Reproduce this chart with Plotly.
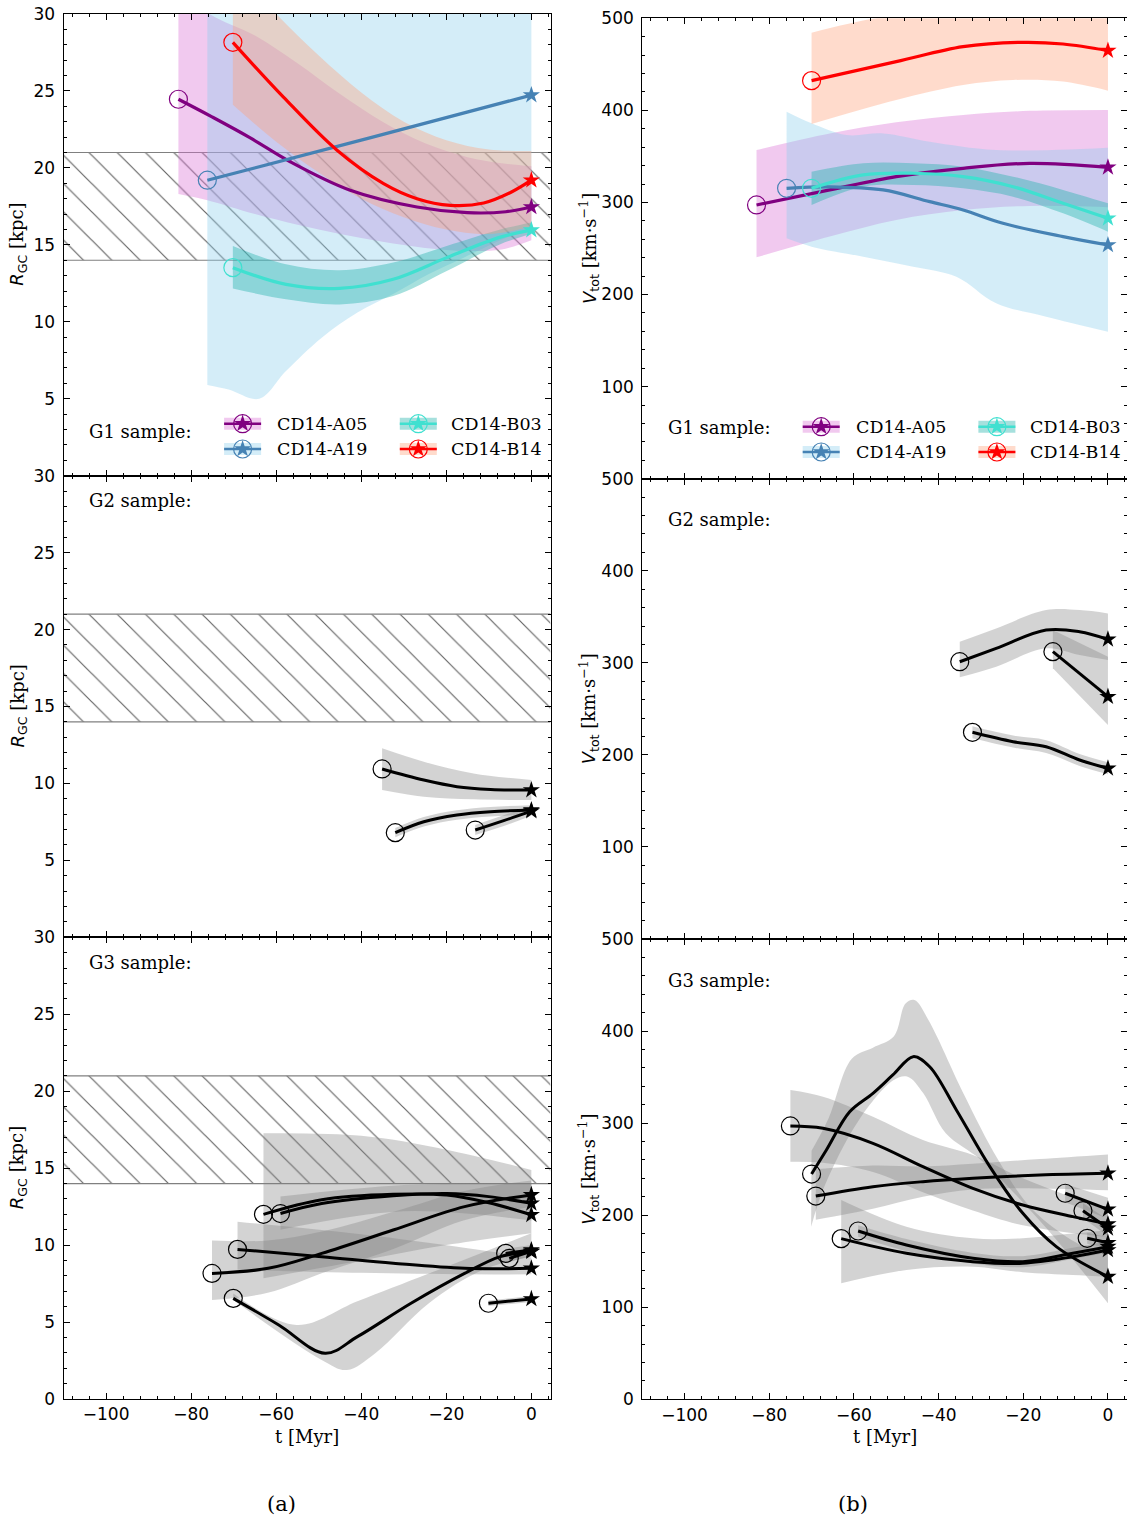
import plotly.graph_objects as go

W, H = 1127, 1527

# ---------------- axis ranges / ticks ----------------
T_RANGE = [-110, 4.5]
R_RANGE = [0, 30]
V_RANGE = [0, 500]
HATCH_R = [14, 21]
X_TICKS = [-100, -80, -60, -40, -20, 0]
R_TICKS = [0, 5, 10, 15, 20, 25, 30]
V_TICKS = [0, 100, 200, 300, 400, 500]

# ---------------- G1 sample (coloured) ----------------
G1_NAMES = ["CD14-A05", "CD14-A19", "CD14-B03", "CD14-B14"]
G1_LINE_COLORS = ["purple", "steelblue", "turquoise", "red"]
G1_BAND_COLORS = ["rgba(218,112,214,0.38)", "rgba(135,206,235,0.36)",
                  "rgba(32,178,170,0.40)", "rgba(255,160,122,0.38)"]

# R_GC [kpc]
G1_R_T = [[-83.0, -75.0, -66.1, -56.7, -42.6, -26.9, -15.1, -6.0, 0],
          [-76.2, -38.0, 0],
          [-70.2, -57.7, -45.1, -32.5, -19.9, -7.3, 0],
          [-70.2, -58.3, -45.7, -34.75, -26.9, -19.06, -11.2, -4.9, 0]]
G1_R = [[24.46, 23.3, 21.95, 20.4, 18.55, 17.46, 17.09, 17.15, 17.46],
        [19.2, 21.95, 24.73],
        [13.52, 12.43, 12.17, 12.76, 14.17, 15.5, 15.96],
        [28.16, 24.6, 21.15, 18.98, 18.0, 17.57, 17.72, 18.4, 19.2]]
G1_R_BAND_T = [[-83.0, -76.2, -65, -55, -45, -35, -25, -15, -7, 0],
               [-76.2, -71.2, -64.0, -57.7, -49.3, -40.9, -32.5, -24.1, -15.7, -7.3, 0],
               [-70.2, -57.7, -45.1, -32.5, -19.9, -7.3, 0],
               [-70.2, -60, -50, -40, -30, -20, -10, 0]]
G1_R_UP = [[32, 30.1, 28.6, 26.8, 24.8, 23.0, 21.6, 20.7, 20.3, 20.1],
           [32, 32, 32, 32, 32, 32, 32, 32, 32, 32, 32],
           [14.93, 13.74, 13.35, 13.85, 14.93, 16.0, 16.46],
           [33.0, 30.0, 27.3, 24.9, 23.0, 21.8, 21.2, 21.1]]
G1_R_LO = [[18.3, 17.9, 17.0, 16.3, 15.7, 15.2, 14.8, 14.6, 14.7, 15.3],
           [5.9, 5.6, 5.0, 6.8, 8.96, 10.6, 11.8, 13.1, 14.2, 15.3, 16.1],
           [12.17, 11.46, 11.13, 11.67, 13.3, 15.04, 15.7],
           [24.1, 21.7, 19.7, 18.0, 16.8, 16.0, 15.7, 16.2]]

# V_tot [km/s]
G1_V_T = [[-83.0, -65.7, -50.0, -34.2, -18.5, 0],
          [-75.9, -65.7, -53.1, -42.1, -34.2, -24.8, -10.6, 0],
          [-70.0, -57.8, -46.0, -34.2, -22.4, -10.6, 0],
          [-70.0, -50.0, -34.2, -20.1, -10.6, 0]]
G1_V = [[297.3, 313.6, 328.0, 337.1, 342.5, 338.2],
        [315.4, 317.0, 313.6, 300.9, 291.8, 277.4, 262.9, 253.8],
        [315.4, 329.9, 331.7, 328.0, 317.1, 299.1, 282.8],
        [432.3, 452.9, 469.2, 473.9, 472.1, 464.9]]
G1_V_UP_T = [[-83.0, -65.7, -50.0, -34.2, -18.5, 0],
             [-75.9, -70.0, -61.8, -53.1, -42.1, -26.4, 0],
             [-70.0, -57.8, -46.0, -34.2, -22.4, -10.6, 0],
             [-70.0, -55.0, -40.0, -20.0, 0]]
G1_V_UP = [[357, 375, 387, 395, 399.5, 400.5],
           [398.6, 386, 373.3, 375, 366, 357, 359.5],
           [333.4, 342.5, 342.5, 338.9, 328.0, 313.6, 299.1],
           [484.4, 500, 508, 514, 512]]
G1_V_LO_T = [[-83.0, -65.7, -50.0, -34.2, -18.5, 0],
             [-75.9, -70.0, -57.8, -46.0, -35.8, -26.4, -14.6, 0],
             [-70.0, -57.8, -46.0, -34.2, -22.4, -10.6, 0],
             [-70.0, -50.0, -34.2, -22.4, -10.6, 0]]
G1_V_LO = [[240.4, 263, 281, 291.8, 296.2, 294.8],
           [261, 252, 241.1, 230.3, 219.4, 190.5, 176, 159.7],
           [297.3, 317.1, 319.0, 315.4, 306.3, 288.2, 268.3],
           [385.2, 411.3, 427.6, 433.0, 431.3, 421.4]]

# ---------------- G2 sample (grey) ----------------
G2_R_T = [[-35.1, -25.3, -17.5, -9.6, 0], [-32.0, -25.3, -17.5, -9.6, 0], [-13.2, -6.5, 0]]
G2_R = [[10.94, 10.22, 9.79, 9.61, 9.57], [6.8, 7.51, 7.95, 8.16, 8.27], [6.97, 7.58, 8.2]]
G2_R_BAND_T = [[-35.1, -25.3, -13.6, 0], [-32.0, -25.3, -17.5, -9.6, 0], [-13.2, -6.5, 0]]
G2_R_UP = [[12.28, 11.41, 10.65, 10.22], [7.1, 7.82, 8.26, 8.47, 8.58], [7.3, 7.93, 8.5]]
G2_R_LO = [[9.57, 9.14, 8.97, 8.92], [6.5, 7.2, 7.64, 7.85, 7.96], [6.65, 7.23, 7.9]]

G2_V_T = [[-35.0, -26.4, -14.6, -6.7, 0], [-13.0, 0], [-32.0, -22.4, -14.6, -6.7, 0]]
G2_V = [[301.2, 315.7, 335.6, 333.8, 325.5], [312.1, 263.2], [224.5, 214.3, 208.9, 194.4, 185.4]]
G2_V_UP = [[322.9, 337.4, 357.3, 357.3, 353.7], [335.6, 306.6], [231, 221, 216, 201, 192]]
G2_V_LO = [[284.2, 295.8, 315.7, 308.5, 303.0], [294.0, 232.4], [218, 208, 202, 188, 179]]

# ---------------- G3 sample (grey) ----------------
G3_R_T = [[-63.0, -49.3, -32.5, -19.9, -10.0, 0],
          [-59.0, -49.3, -32.5, -19.9, -10.0, 0],
          [-69.1, -49.3, -32.5, -15.7, 0],
          [-75.1, -61.9, -49.3, -32.5, -15.7, 0],
          [-70.1, -59.4, -48.5, -40.9, -28.3, -15.7, -7.3, 0],
          [-6.05, 0], [-5.2, 0], [-10.1, 0]]
G3_R = [[12.0, 12.95, 13.3, 13.25, 12.75, 11.97],
        [12.05, 12.7, 13.2, 13.35, 13.15, 12.71],
        [9.72, 9.25, 8.82, 8.49, 8.49],
        [8.16, 8.49, 9.46, 10.98, 12.5, 13.26],
        [6.54, 4.81, 2.97, 4.05, 6.22, 8.16, 9.25, 9.57],
        [9.46, 9.68], [9.14, 9.6], [6.22, 6.5]]
G3_R_UP_T = [[-63, -40, -20, 0], [-59, -30, 0], [-69.1, -40, -15, 0],
             [-75.1, -62, -49, -32, -16, 0], [-70.1, -55.2, -40.9, -24.1, 0],
             [-6.05, 0], [-5.2, 0], [-10.1, 0]]
G3_R_UP = [[17.26, 17.1, 16.2, 14.88], [13.15, 13.9, 14.0], [11.52, 10.7, 9.8, 9.2],
           [10.3, 10.3, 10.9, 12.2, 13.5, 14.2], [6.86, 4.81, 6.35, 8.15, 10.77],
           [9.75, 10.0], [9.4, 9.9], [6.4, 6.7]]
G3_R_LO_T = [[-63, -40, -20, 0], [-59, -30, 0], [-69.1, -40, -15, 0],
             [-75.1, -62, -49, -32, -16, 0], [-70.1, -49.3, -43.4, -36.7, -24.1, -11.5, 0],
             [-6.05, 0], [-5.2, 0], [-10.1, 0]]
G3_R_LO = [[7.84, 9.0, 10.0, 10.77], [11.0, 12.2, 11.6], [8.4, 8.2, 8.1, 8.1],
           [6.43, 6.9, 8.2, 9.8, 11.6, 12.5], [6.43, 2.54, 1.88, 2.97, 6.22, 8.38, 9.25],
           [9.2, 9.35], [8.9, 9.3], [6.05, 6.3]]

G3_V_T = [[-75.0, -67.3, -55.5, -43.7, -31.9, -20.1, -8.3, 0],
          [-70.0, -66.5, -61.0, -55.5, -50.8, -46.0, -42.1, -35.8, -27.9, -20.1, -12.2, 0],
          [-69.0, -55.5, -43.7, -31.9, -16.1, 0],
          [-63.0, -47.6, -31.9, -20.1, -8.3, 0],
          [-59.0, -47.6, -31.9, -20.1, -8.3, 0],
          [-10.1, 0], [-5.9, 0], [-4.9, 0]]
G3_V = [[296.9, 294.4, 278.1, 252.7, 229.2, 211.0, 198.4, 190.4],
        [244.7, 270.8, 312.4, 332.4, 352.3, 372.2, 361.3, 314.3, 252.7, 202.0, 165.8, 133.2],
        [220.8, 231.0, 236.4, 240.1, 243.6, 245.5],
        [174.5, 158.6, 149.5, 147.7, 154.9, 162.2],
        [182.8, 167.6, 153.2, 149.5, 158.6, 165.8],
        [223.8, 206.4], [204.9, 185.7], [174.9, 170.1]]
G3_V_UP_T = [[-75.0, -67.3, -55.5, -43.7, -31.9, -20.1, 0],
             [-70.0, -66.0, -60.5, -55.5, -50.6, -47.8, -45.7, -42.4, -34.1, -25.9, -17.7, -5.3, 0],
             [-69.0, -55.5, -43.7, -31.9, -16.1, 0],
             [-63.0, -47.6, -31.9, -20.1, -8.3, 0],
             [-59.0, -47.6, -31.9, -20.1, -8.3, 0],
             [-10.1, 0], [-5.9, 0], [-4.9, 0]]
G3_V_UP = [[336, 328.7, 307, 281.7, 265.4, 240, 205],
           [270, 305, 370, 382, 394, 430, 433.7, 412, 332, 260, 205.6, 165, 160],
           [250, 254, 253, 256, 261, 266],
           [216.5, 187.5, 174.9, 175, 180, 184],
           [189, 174, 159, 155.5, 164.5, 172],
           [234, 219], [213, 195], [181, 176]]
G3_V_LO_T = [[-75.0, -67.3, -55.5, -43.7, -31.9, -20.1, 0],
             [-70.1, -67.0, -58.8, -50.6, -47.3, -43.6, -38.3, -30.0, -17.7, -9.5, 0],
             [-69.0, -55.5, -43.7, -31.9, -16.1, 0],
             [-63.0, -47.6, -31.9, -20.1, -8.3, 0],
             [-59.0, -47.6, -31.9, -20.1, -8.3, 0],
             [-10.1, 0], [-5.9, 0], [-4.9, 0]]
G3_V_LO = [[258.1, 257, 247, 225, 205, 189, 176],
           [187.5, 231, 303.5, 346.8, 350.4, 332.4, 289, 260, 202, 158.6, 104.3],
           [195, 207, 220, 228, 229, 227],
           [126, 140.5, 144, 138, 135, 133],
           [176.5, 161, 147.5, 143.5, 152.5, 159.5],
           [214, 196], [197, 177], [169, 164]]

GREY_BAND = "rgba(128,128,128,0.35)"

# ---------------- layout geometry (pixels) ----------------
X_LEFT = (63.6, 550.5)
X_RIGHT = (642.2, 1127.0)
ROWS_LEFT = [(14.0, 475.7), (475.7, 937.3), (937.3, 1399.0)]
ROWS_RIGHT = [(18.3, 478.7), (478.7, 939.0), (939.0, 1399.3)]
SERIF = "DejaVu Serif"
SANS = "DejaVu Sans"
SMOOTH = 1.0

fig = go.Figure()


def refs(i):
    return ("x" if i == 1 else f"x{i}"), ("y" if i == 1 else f"y{i}")


def sc(i, **kw):
    xr, yr = refs(i)
    fig.add_trace(go.Scatter(xaxis=xr, yaxis=yr, showlegend=False, hoverinfo="skip", **kw))


def band(i, t_lo, lo, t_up, up, color):
    sc(i, x=t_lo, y=lo, mode="lines", line=dict(width=0, shape="spline", smoothing=SMOOTH))
    sc(i, x=t_up, y=up, mode="lines", line=dict(width=0, shape="spline", smoothing=SMOOTH),
       fill="tonexty", fillcolor=color)


def track(i, t, v, color, lw=3.2):
    sc(i, x=t, y=v, mode="lines", line=dict(color=color, width=lw, shape="spline", smoothing=SMOOTH))
    sc(i, x=t[:1], y=v[:1], mode="markers", cliponaxis=False,
       marker=dict(symbol="circle-open", size=18, color=color, line=dict(color=color, width=1.2)))
    sc(i, x=t[-1:], y=v[-1:], mode="markers", cliponaxis=False,
       marker=dict(symbol="star", size=13, color=color, line=dict(width=0)))


def hatch(i):
    sc(i, x=[T_RANGE[0], T_RANGE[1], T_RANGE[1], T_RANGE[0]],
       y=[HATCH_R[0], HATCH_R[0], HATCH_R[1], HATCH_R[1]],
       mode="lines", line=dict(width=0), fill="toself", fillcolor="rgba(0,0,0,0)",
       fillpattern=dict(shape="\\", fgcolor="#666666", bgcolor="rgba(0,0,0,0)",
                        size=20, solidity=0.06, fgopacity=1))
    for r in HATCH_R:
        sc(i, x=T_RANGE, y=[r, r], mode="lines", line=dict(color="#808080", width=1.2))


# ---- row 1 : G1 ----
hatch(1)
for k in range(4):
    band(1, G1_R_BAND_T[k], G1_R_LO[k], G1_R_BAND_T[k], G1_R_UP[k], G1_BAND_COLORS[k])
for k in range(4):
    band(2, G1_V_LO_T[k], G1_V_LO[k], G1_V_UP_T[k], G1_V_UP[k], G1_BAND_COLORS[k])
for k in range(4):
    track(1, G1_R_T[k], G1_R[k], G1_LINE_COLORS[k])
    track(2, G1_V_T[k], G1_V[k], G1_LINE_COLORS[k])

# ---- row 2 : G2 ----
hatch(3)
for k in range(len(G2_R_T)):
    band(3, G2_R_BAND_T[k], G2_R_LO[k], G2_R_BAND_T[k], G2_R_UP[k], GREY_BAND)
for k in range(len(G2_V_T)):
    band(4, G2_V_T[k], G2_V_LO[k], G2_V_T[k], G2_V_UP[k], GREY_BAND)
for k in range(len(G2_R_T)):
    track(3, G2_R_T[k], G2_R[k], "black", 3.0)
for k in range(len(G2_V_T)):
    track(4, G2_V_T[k], G2_V[k], "black", 3.0)

# ---- row 3 : G3 ----
hatch(5)
for k in range(len(G3_R_T)):
    band(5, G3_R_LO_T[k], G3_R_LO[k], G3_R_UP_T[k], G3_R_UP[k], GREY_BAND)
for k in range(len(G3_V_T)):
    band(6, G3_V_LO_T[k], G3_V_LO[k], G3_V_UP_T[k], G3_V_UP[k], GREY_BAND)
for k in range(len(G3_R_T)):
    track(5, G3_R_T[k], G3_R[k], "black", 3.0)
for k in range(len(G3_V_T)):
    track(6, G3_V_T[k], G3_V[k], "black", 3.0)

# ---------------- axes ----------------
tickfont = dict(family=SANS, size=17, color="black")
common = dict(showline=True, linecolor="black", linewidth=1, mirror="allticks",
              ticks="inside", ticklen=6, tickwidth=1, tickcolor="black",
              showgrid=False, zeroline=False, tickfont=tickfont, fixedrange=True)
layout_axes = {}
for row in range(3):
    for col in range(2):
        i = row * 2 + col + 1
        xr, yr = refs(i)
        xs = X_LEFT if col == 0 else X_RIGHT
        top, bot = (ROWS_LEFT if col == 0 else ROWS_RIGHT)[row]
        xk = "xaxis" if i == 1 else f"xaxis{i}"
        yk = "yaxis" if i == 1 else f"yaxis{i}"
        layout_axes[xk] = dict(common, domain=[xs[0] / W, min(xs[1] / W, 1.0)], range=T_RANGE,
                               anchor=yr, tickmode="array", tickvals=X_TICKS,
                               showticklabels=(row == 2),
                               minor=dict(dtick=4, tick0=0, ticks="inside", ticklen=3, tickwidth=1,
                                          tickcolor="black", showgrid=False))
        if col == 0:
            yt, yrng, mdt = R_TICKS, R_RANGE, 1
        else:
            yt, yrng, mdt = V_TICKS, V_RANGE, 20
        yvals = yt if row == 2 else yt[1:]
        layout_axes[yk] = dict(common, domain=[1 - bot / H, 1 - top / H], range=yrng, anchor=xr,
                               tickmode="array", tickvals=yvals, ticklabelstandoff=4,
                               minor=dict(dtick=mdt, tick0=0, ticks="inside", ticklen=3, tickwidth=1,
                                          tickcolor="black", showgrid=False))

# overlay pixel axes for hand-built legends
layout_axes["xaxis7"] = dict(domain=[0, 1], range=[0, W], visible=False, fixedrange=True, anchor="y7")
layout_axes["yaxis7"] = dict(domain=[0, 1], range=[H, 0], visible=False, fixedrange=True, anchor="x7")

annotations = []


def ann(px, py, text, size, family=SERIF, xanchor="left", angle=0):
    annotations.append(dict(x=px / W, y=1 - py / H, xref="paper", yref="paper", text=text,
                            showarrow=False, xanchor=xanchor, yanchor="middle", textangle=angle,
                            font=dict(family=family, size=size, color="black")))


# legends for G1 panels
LEG_CIRCLE_DX = [179.0, 354.7]
LEG_LABEL_DX = [211.4, 385.7]
LEG_ROW_DY = [52.0, 26.7]
LEG_HALF_W, LEG_HALF_H = 18.5, 6.0
for pl, pb in [(X_LEFT[0], ROWS_LEFT[0][1]), (X_RIGHT[0], ROWS_RIGHT[0][1])]:
    for k in range(4):
        c, r = k // 2, k % 2
        cx, cy = pl + LEG_CIRCLE_DX[c], pb - LEG_ROW_DY[r]
        sc(7, x=[cx - LEG_HALF_W, cx + LEG_HALF_W, cx + LEG_HALF_W, cx - LEG_HALF_W],
           y=[cy - LEG_HALF_H, cy - LEG_HALF_H, cy + LEG_HALF_H, cy + LEG_HALF_H],
           mode="lines", line=dict(width=0), fill="toself", fillcolor=G1_BAND_COLORS[k])
        sc(7, x=[cx - LEG_HALF_W, cx + LEG_HALF_W], y=[cy, cy], mode="lines",
           line=dict(color=G1_LINE_COLORS[k], width=2.6))
        sc(7, x=[cx], y=[cy], mode="markers", marker=dict(symbol="circle-open", size=18,
           color=G1_LINE_COLORS[k], line=dict(color=G1_LINE_COLORS[k], width=1.2)))
        sc(7, x=[cx], y=[cy], mode="markers", marker=dict(symbol="star", size=13,
           color=G1_LINE_COLORS[k], line=dict(width=0)))
        ann(pl + LEG_LABEL_DX[c], cy, G1_NAMES[k], 17.5)

# sample labels
ann(87, 431.5, "G1 sample:", 18)
ann(666, 427, "G1 sample:", 18)
ann(87, 500, "G2 sample:", 18)
ann(666, 519, "G2 sample:", 18)
ann(87, 963, "G3 sample:", 18)
ann(666, 980, "G3 sample:", 18)

# axis titles
RT = "<span style='font-family:DejaVu Sans'><i>R</i><sub>GC</sub></span> [kpc]"
VT = "<span style='font-family:DejaVu Sans'><i>V</i><sub>tot</sub></span> [km·s<sup>−1</sup>]"
for top, bot in ROWS_LEFT:
    ann(18, (top + bot) / 2, RT, 18, xanchor="center", angle=-90)
for top, bot in ROWS_RIGHT:
    ann(588.5, (top + bot) / 2, VT, 18, xanchor="center", angle=-90)
ann((X_LEFT[0] + X_LEFT[1]) / 2, 1436, "t [Myr]", 18, xanchor="center")
ann((X_RIGHT[0] + 1128) / 2, 1436, "t [Myr]", 18, xanchor="center")
ann(281, 1504, "(a)", 21, xanchor="center")
ann(853, 1504, "(b)", 21, xanchor="center")

fig.update_layout(width=W, height=H, autosize=False, template="none",
                  margin=dict(l=0, r=0, t=0, b=0, pad=0),
                  paper_bgcolor="white", plot_bgcolor="rgba(0,0,0,0)",
                  showlegend=False, annotations=annotations, **layout_axes)

fig.write_html("out.html")
